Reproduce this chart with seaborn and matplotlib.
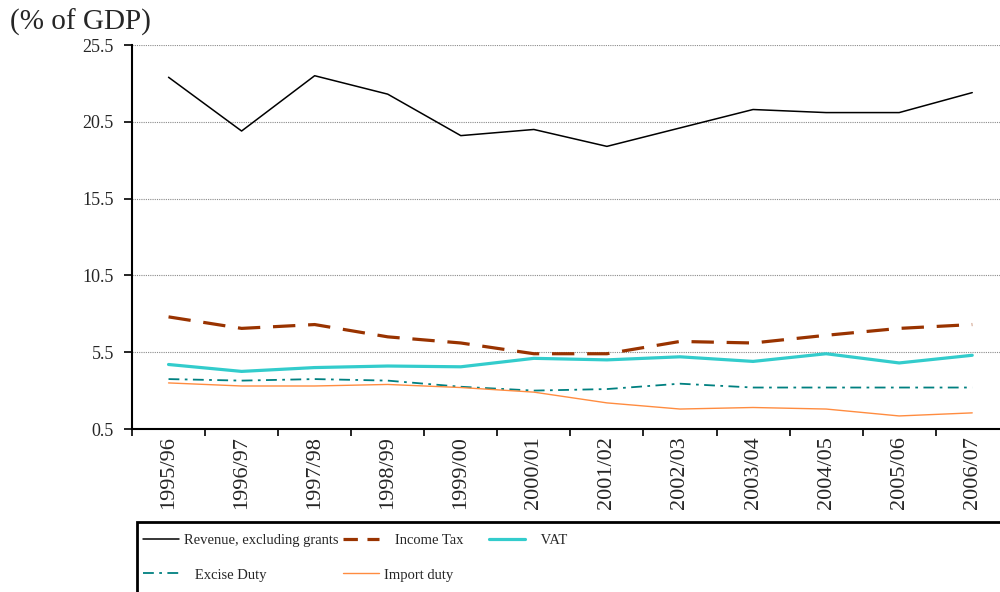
import matplotlib
matplotlib.use("Agg")
import matplotlib.pyplot as plt
import numpy as np
import seaborn as sns
from matplotlib.patches import Rectangle
from matplotlib.ticker import FixedLocator

# Fiscal years and revenue components (% of GDP)
years = ["1995/96", "1996/97", "1997/98", "1998/99", "1999/00", "2000/01",
         "2001/02", "2002/03", "2003/04", "2004/05", "2005/06", "2006/07"]
revenue = [23.4, 19.9, 23.5, 22.3, 19.6, 20.0, 18.9, 20.1, 21.3, 21.1, 21.1, 22.4]
income_tax = [7.8, 7.05, 7.3, 6.5, 6.1, 5.4, 5.4, 6.2, 6.1, 6.6, 7.05, 7.3]
vat = [4.7, 4.25, 4.5, 4.6, 4.55, 5.1, 5.0, 5.2, 4.9, 5.4, 4.8, 5.3]
excise = [3.75, 3.65, 3.75, 3.65, 3.25, 3.0, 3.1, 3.45, 3.2, 3.2, 3.2, 3.2]
import_duty = [3.5, 3.3, 3.3, 3.4, 3.2, 2.9, 2.2, 1.8, 1.9, 1.8, 1.35, 1.55]

y_ticks = [0.5, 5.5, 10.5, 15.5, 20.5, 25.5]

sns.set_theme(style="white")
plt.rcParams["font.family"] = ["Liberation Serif", "DejaVu Serif"]

fig = plt.figure(figsize=(10, 5.92), dpi=100)
ax = fig.add_axes([0.132, 1 - 429 / 592, 1.0 - 0.132, 384 / 592])

series = [
    ("Revenue, excluding grants", revenue, "black", 1.1, "-"),
    ("   Income Tax", income_tax, "#993300", 2.3, (0, (7, 4))),
    ("   VAT", vat, "#33cccc", 2.3, "-"),
    ("   Excise Duty", excise, "#008080", 1.3, (0, (6, 3, 1.5, 3))),
    ("Import duty", import_duty, "#ff8c40", 1.0, "-"),
]

handles = {}
for label, values, color, lw, ls in series:
    sns.lineplot(x=years, y=values, ax=ax, color=color, linewidth=lw,
                 linestyle=ls, legend=False, label=label, sort=False)
    handles[label] = ax.get_lines()[-1]

ax.set(xlabel="", ylabel="")
ax.set_xlim(-0.5, 11.38)
ax.set_ylim(0.5, 25.5)

# y axis
ax.set_yticks(y_ticks)
ax.set_yticklabels([f"{v:.1f}" for v in y_ticks])
ax.yaxis.grid(True, color="#8a8a8a", linestyle=(0, (1, 1)), linewidth=0.8)
ax.xaxis.grid(False)
ax.set_axisbelow(True)
ax.tick_params(axis="y", direction="out", length=6, width=1.2, color="black",
               labelsize=13, pad=7, left=True)

# x axis: labels at category centres, tick marks at category boundaries
ax.set_xticks(range(len(years)))
ax.set_xticklabels(years, rotation=90, va="top")
ax.xaxis.set_minor_locator(FixedLocator(np.arange(-0.5, len(years), 1.0)))
ax.tick_params(axis="x", which="major", length=0, labelsize=16, pad=5)
ax.tick_params(axis="x", which="minor", direction="out", length=5, width=1.2,
               color="black", bottom=True)

for side in ("top", "right"):
    ax.spines[side].set_visible(False)
for side in ("left", "bottom"):
    ax.spines[side].set_color("black")
    ax.spines[side].set_linewidth(1.5)

fig.text(0.010, 1 - 9 / 592, "(% of GDP)", fontsize=21, ha="left", va="top")

# Legend: a framed box below the axis with three columns
fig.add_artist(Rectangle((0.137, -0.1), 1.0, 1 - 522 / 592 + 0.1,
                         transform=fig.transFigure, fill=False,
                         edgecolor="black", linewidth=2))

columns = [
    (0.143, ["Revenue, excluding grants", "   Excise Duty"]),
    (0.343, ["   Income Tax", "Import duty"]),
    (0.489, ["   VAT"]),
]
for x0, labels in columns:
    leg = fig.legend(handles=[handles[l] for l in labels], labels=labels,
                     loc="upper left", bbox_to_anchor=(x0, 1 - 534 / 592),
                     frameon=False, borderpad=0, borderaxespad=0,
                     fontsize=10.5, handlelength=2.5, handletextpad=0.3,
                     labelspacing=1.45)
    for line in leg.get_lines():
        if line.get_color() == "#993300":
            line.set_linestyle((0, (4.5, 3)))

fig.savefig("out.png", dpi=100)
